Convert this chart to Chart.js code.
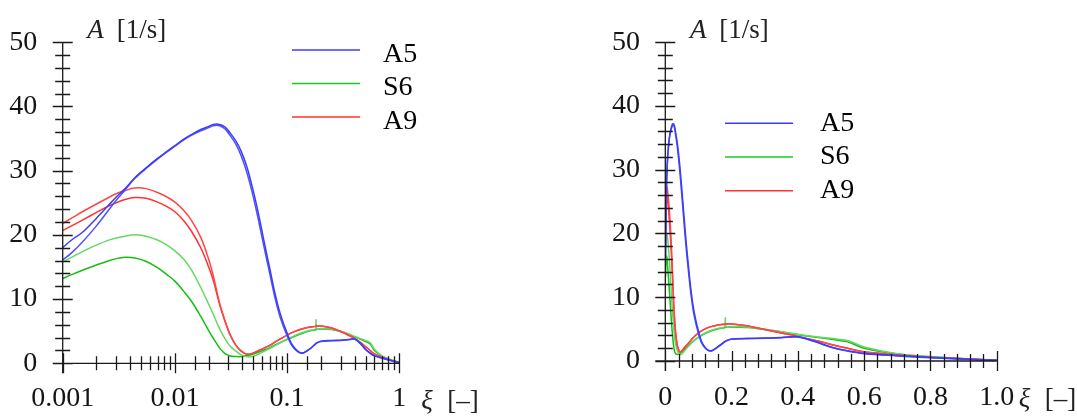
<!DOCTYPE html>
<html>
<head>
<meta charset="utf-8">
<script src="https://cdn.jsdelivr.net/npm/chart.js@4.4.1/dist/chart.umd.min.js"></script>
<style>
  html, body { margin: 0; padding: 0; background: #fff; }
  #wrap { position: relative; width: 1077px; height: 417px; }
  #leftChart { position: absolute; left: 0; top: 0; }
  #rightChart { position: absolute; left: 540px; top: 0; }
</style>
</head>
<body>
<div id="wrap">
  <canvas id="leftChart" width="540" height="417"></canvas>
  <canvas id="rightChart" width="537" height="417"></canvas>
</div>
<script>
// xi [-], shared by every curve
const xi = [0.001, 0.0012, 0.0015, 0.002, 0.0025, 0.003, 0.0036, 0.0044, 0.0055, 0.007,
  0.0085, 0.01, 0.012, 0.014, 0.017, 0.02, 0.022, 0.025, 0.028, 0.031,
  0.035, 0.039, 0.044, 0.05, 0.056, 0.063, 0.07, 0.078, 0.087, 0.1,
  0.113, 0.135, 0.16, 0.178, 0.181, 0.184, 0.2, 0.25, 0.3, 0.35,
  0.4, 0.45, 0.5, 0.55, 0.6, 0.7, 0.8, 0.9, 1.0];

// A [1/s], two runs per case
const a5Upper = [18.0, 19.2, 20.4, 22.6, 24.4, 25.9, 27.2, 28.9, 30.4, 31.9,
  33.0, 33.9, 34.9, 35.6, 36.4, 36.9, 37.2, 37.2, 36.8, 35.9,
  34.6, 33.0, 30.5, 26.8, 23.0, 18.6, 14.8, 10.9, 7.7, 4.7,
  2.7, 1.6, 2.3, 3.0, 3.1, 3.2, 3.45, 3.55, 3.6, 3.7,
  3.8, 3.1, 2.2, 1.6, 1.2, 0.85, 0.55, 0.3, 0.1];
const a5Lower = [16.1, 17.2, 18.9, 21.4, 23.6, 25.4, 27.0, 28.8, 30.3, 31.8,
  32.9, 33.8, 34.8, 35.5, 36.2, 36.7, 37.0, 37.0, 36.5, 35.5,
  34.1, 32.3, 29.6, 25.9, 22.0, 17.7, 14.0, 10.2, 7.1, 4.3,
  2.5, 1.55, 2.25, 2.95, 3.05, 3.15, 3.4, 3.5, 3.55, 3.65,
  3.75, 3.05, 2.15, 1.55, 1.15, 0.8, 0.5, 0.28, 0.1];
const a9Upper = [21.8, 22.6, 23.6, 24.8, 25.7, 26.4, 26.9, 27.3, 27.2, 26.6,
  25.9, 25.1, 23.8, 22.3, 19.6, 16.2, 13.6, 9.4, 6.6, 4.5,
  2.8, 1.9, 1.4, 1.6, 2.0, 2.4, 2.8, 3.3, 3.8, 4.4,
  4.85, 5.35, 5.65, 5.75, 5.8, 5.8, 5.8, 5.5, 4.95, 4.4,
  3.85, 3.25, 2.6, 2.0, 1.45, 0.95, 0.6, 0.35, 0.1];
const a9Lower = [20.7, 21.4, 22.3, 23.5, 24.4, 25.0, 25.5, 25.8, 25.7, 25.1,
  24.4, 23.6, 22.2, 20.6, 18.0, 15.0, 12.9, 9.2, 6.5, 4.45,
  2.8, 1.9, 1.4, 1.6, 2.0, 2.4, 2.8, 3.3, 3.8, 4.4,
  4.85, 5.35, 5.65, 5.75, 5.8, 5.8, 5.8, 5.5, 4.95, 4.4,
  3.85, 3.25, 2.6, 2.0, 1.45, 0.95, 0.6, 0.35, 0.1];
const s6Upper = [15.8, 16.5, 17.4, 18.4, 19.1, 19.5, 19.8, 20.0, 19.8, 19.2,
  18.4, 17.5, 16.2, 14.6, 11.8, 9.2, 7.6, 5.4, 3.8, 2.7,
  1.9, 1.3, 1.0, 1.1, 1.45, 1.9, 2.3, 2.75, 3.2, 3.75,
  4.2, 4.75, 5.15, 5.3, 6.8, 5.35, 5.4, 5.3, 5.0, 4.6,
  4.2, 3.85, 3.55, 3.2, 2.2, 1.15, 0.7, 0.4, 0.1];
const s6Lower = [13.2, 13.8, 14.5, 15.3, 15.9, 16.3, 16.5, 16.4, 15.9, 14.9,
  13.8, 12.8, 11.2, 9.7, 7.3, 5.1, 3.9, 2.4, 1.5, 1.15,
  1.05, 1.05, 1.2, 1.45, 1.75, 2.1, 2.45, 2.85, 3.25, 3.7,
  4.1, 4.65, 5.05, 5.2, 5.25, 5.3, 5.35, 5.25, 4.95, 4.55,
  4.1, 3.75, 3.4, 3.0, 2.0, 1.1, 0.65, 0.35, 0.1];

const seriesNames = ['A5', 'S6', 'A9'];
const seriesColors = ['rgb(60,60,255)', 'rgb(30,200,30)', 'rgb(255,50,50)'];
const yTickLabels = ['0', '10', '20', '30', '40', '50'];
const xTickLabelsLog = ['0.001', '0.01', '0.1', '1'];
const xTickLabelsLin = ['0', '0.2', '0.4', '0.6', '0.8', '1.0'];
const yTitle = ['A', '[1/s]'];
const xTitle = ['\u03BE', '[\u2013]'];

const serif = '"Liberation Serif", "Times New Roman", serif';
Chart.defaults.font.family = serif;

const pts = (ys) => xi.map((x, i) => ({ x: x, y: ys[i] }));

function makeDatasets() {
  const line = (ys, color) => ({
    data: pts(ys),
    borderColor: color,
    borderWidth: 1.5,
    pointRadius: 0,
    tension: 0.35,
    fill: false
  });
  return [
    line(a5Upper, 'rgb(60,60,255)'),
    line(a5Lower, 'rgb(80,80,255)'),
    line(a9Upper, 'rgb(255,70,70)'),
    line(a9Lower, 'rgb(255,50,50)'),
    line(s6Upper, 'rgb(100,215,100)'),
    line(s6Lower, 'rgb(20,190,20)')
  ];
}

const isPow10 = (v) => Math.abs(Math.log10(v) - Math.round(Math.log10(v))) < 1e-6;
const isFifth = (v) => Math.abs(v / 0.2 - Math.round(v / 0.2)) < 1e-6;

// axes drawn as crossing tick marks, like the original plot
const axisTicks = {
  id: 'axisTicks',
  afterDatasetsDraw(chart) {
    const ctx = chart.ctx;
    const area = chart.chartArea;
    const xs = chart.scales.x;
    const ys = chart.scales.y;
    ctx.save();
    ctx.strokeStyle = '#1a1a1a';
    ctx.lineWidth = 1.3;
    ctx.beginPath();
    ctx.moveTo(area.left - 10, area.bottom);
    ctx.lineTo(area.right, area.bottom);
    ctx.moveTo(area.left, area.top);
    ctx.lineTo(area.left, area.bottom + 10);
    ys.ticks.forEach(t => {
      const y = Math.round(ys.getPixelForValue(t.value)) + 0.5;
      const h = Math.abs(t.value % 10) < 1e-6 ? 10 : 7.5;
      ctx.moveTo(area.left - h, y);
      ctx.lineTo(area.left + h, y);
    });
    xs.ticks.forEach(t => {
      const x = Math.round(xs.getPixelForValue(t.value)) + 0.5;
      const major = xs.type === 'logarithmic' ? isPow10(t.value) : isFifth(t.value);
      const h = major ? 10 : 7;
      ctx.moveTo(x, area.bottom - h);
      ctx.lineTo(x, area.bottom + h);
    });
    ctx.stroke();
    ctx.restore();
  }
};

const axisTitles = {
  id: 'axisTitles',
  afterDraw(chart, args, opts) {
    const ctx = chart.ctx;
    const area = chart.chartArea;
    ctx.save();
    ctx.fillStyle = '#222';
    ctx.textBaseline = 'alphabetic';
    ctx.textAlign = 'left';
    ctx.font = 'italic 27px ' + serif;
    ctx.fillText(yTitle[0], area.left + 24.6, 37.5);
    ctx.font = '27px ' + serif;
    ctx.fillText(yTitle[1], area.left + 54, 37.5);
    ctx.font = 'italic 27px ' + serif;
    ctx.fillText(xTitle[0], area.right + 22, opts.baseline);
    ctx.font = '27px ' + serif;
    ctx.fillText(xTitle[1], area.right + 48, opts.baseline);
    ctx.restore();
  }
};

const sketchLegend = {
  id: 'sketchLegend',
  afterDraw(chart, args, opts) {
    const ctx = chart.ctx;
    ctx.save();
    ctx.font = '28px ' + serif;
    ctx.textAlign = 'left';
    ctx.textBaseline = 'alphabetic';
    seriesNames.forEach((name, i) => {
      const y = opts.y + i * opts.dy;
      ctx.strokeStyle = seriesColors[i];
      ctx.lineWidth = 1.6;
      ctx.beginPath();
      ctx.moveTo(opts.x, y);
      ctx.lineTo(opts.x + opts.len, y);
      ctx.stroke();
      ctx.fillStyle = '#000';
      ctx.fillText(name, opts.textX, y + opts.textDy);
    });
    ctx.restore();
  }
};

const tickFont = { family: serif, size: 28 };

function yScale(width) {
  return {
    type: 'linear',
    min: 0,
    max: 50,
    afterFit: (s) => { s.width = width; },
    grid: { display: false, drawTicks: false },
    border: { display: false },
    ticks: {
      stepSize: 2,
      autoSkip: false,
      padding: 25.4,
      font: tickFont,
      color: '#151515',
      callback: (v) => (Math.abs(v % 10) < 1e-6 ? yTickLabels[Math.round(v / 10)] : '')
    }
  };
}

new Chart(document.getElementById('leftChart'), {
  type: 'line',
  data: { datasets: makeDatasets() },
  options: {
    responsive: false,
    animation: false,
    layout: { padding: { top: 26, right: 140.7, left: 0, bottom: 0 } },
    plugins: {
      legend: { display: false },
      tooltip: { enabled: false },
      axisTitles: { baseline: 409 },
      sketchLegend: { x: 292, y: 50, dy: 33.5, len: 68, textX: 383, textDy: 11.7 }
    },
    scales: {
      x: {
        type: 'logarithmic',
        min: 0.001,
        max: 1,
        afterFit: (s) => { s.height = 53.7; },
        grid: { display: false, drawTicks: false },
        border: { display: false },
        ticks: {
          autoSkip: false,
          maxRotation: 0,
          minRotation: 0,
          padding: 18.4,
          font: tickFont,
          color: '#151515',
          callback: (v) => (isPow10(v) ? xTickLabelsLog[Math.round(Math.log10(v)) + 3] : '')
        }
      },
      y: yScale(62.7)
    }
  },
  plugins: [axisTicks, axisTitles, sketchLegend]
});

new Chart(document.getElementById('rightChart'), {
  type: 'line',
  data: { datasets: makeDatasets() },
  options: {
    responsive: false,
    animation: false,
    layout: { padding: { top: 26, right: 80.3, left: 0, bottom: 0 } },
    plugins: {
      legend: { display: false },
      tooltip: { enabled: false },
      axisTitles: { baseline: 407 },
      sketchLegend: { x: 185, y: 123.3, dy: 33.7, len: 68, textX: 280, textDy: 7.4 }
    },
    scales: {
      x: {
        type: 'linear',
        min: 0,
        max: 1,
        afterFit: (s) => { s.height = 56; },
        grid: { display: false, drawTicks: false },
        border: { display: false },
        ticks: {
          stepSize: 0.04,
          autoSkip: false,
          maxRotation: 0,
          minRotation: 0,
          padding: 20,
          font: tickFont,
          color: '#151515',
          callback: (v) => (isFifth(v) ? xTickLabelsLin[Math.round(v / 0.2)] : '')
        }
      },
      y: yScale(125.3)
    }
  },
  plugins: [axisTicks, axisTitles, sketchLegend]
});
</script>
</body>
</html>
